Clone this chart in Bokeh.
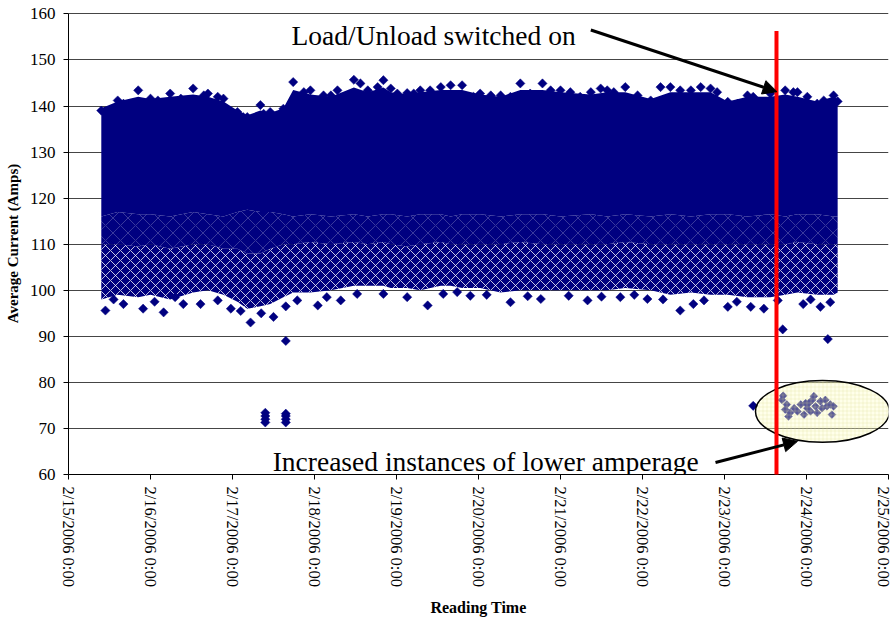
import math
from bokeh.plotting import figure
from bokeh.models import Range1d, FixedTicker, Arrow, NormalHead, Label, ColumnDataSource
from bokeh.embed import file_html
from bokeh.resources import INLINE

FONT = "Liberation Serif"
NAVY = "#000080"

# ---- axes ----
x_ticks = list(range(11))  # days since 2/15/2006 0:00
x_tick_labels = ["2/15/2006 0:00", "2/16/2006 0:00", "2/17/2006 0:00", "2/18/2006 0:00",
                 "2/19/2006 0:00", "2/20/2006 0:00", "2/21/2006 0:00", "2/22/2006 0:00",
                 "2/23/2006 0:00", "2/24/2006 0:00", "2/25/2006 0:00"]
y_ticks = [60, 70, 80, 90, 100, 110, 120, 130, 140, 150, 160]

# ---- dense reading cloud, read per time bin (days since 2/15 0:00, Amps) ----
bin_day = [0.40, 0.60, 0.85, 1.00, 1.24, 1.52, 1.70, 1.89, 2.06, 2.18, 2.34, 2.46, 2.62, 2.74,
           2.95, 3.20, 3.48, 3.65, 3.84, 3.93, 4.13, 4.29, 4.54, 4.66, 4.80, 5.02, 5.27, 5.51,
           5.78, 6.00, 6.37, 6.57, 6.79, 7.10, 7.34, 7.59, 7.83, 8.04, 8.28, 8.56, 8.74, 8.89,
           9.13, 9.33, 9.38]
band_top = [139.5, 141.0, 142.0, 141.5, 142.0, 142.5, 142.0, 141.0, 139.0, 138.0, 139.0, 138.5,
            139.5, 143.5, 142.5, 142.0, 144.0, 143.0, 144.0, 143.0, 142.5, 143.0, 143.5, 143.5,
            143.5, 142.5, 142.0, 143.5, 143.5, 143.0, 142.5, 143.0, 143.0, 141.5, 143.0, 143.0,
            143.0, 141.0, 142.0, 142.0, 142.5, 142.0, 141.0, 142.0, 141.5]
core_low = [116.0, 117.0, 116.5, 116.5, 116.0, 117.0, 116.5, 116.0, 117.0, 117.5, 117.0, 117.0,
            116.5, 116.0, 116.5, 116.0, 116.5, 116.0, 116.5, 116.5, 116.0, 116.5, 116.5, 116.0,
            116.5, 116.5, 116.0, 116.5, 116.5, 116.0, 116.5, 116.0, 116.5, 116.0, 116.5, 116.0,
            116.5, 116.5, 116.0, 116.5, 116.0, 116.5, 116.5, 116.0, 116.0]
mid_low = [110.0, 110.0, 109.5, 110.0, 109.0, 110.0, 110.0, 109.0, 109.0, 108.0, 108.0, 109.0,
           110.0, 110.0, 110.5, 110.0, 110.5, 110.0, 110.5, 110.0, 109.5, 110.0, 110.5, 110.0,
           110.0, 110.0, 110.0, 110.5, 110.0, 110.0, 110.0, 110.0, 110.5, 110.0, 110.0, 110.0,
           110.0, 110.0, 110.0, 110.0, 110.0, 110.5, 110.0, 110.0, 110.0]
sparse_low = [98.0, 99.0, 98.5, 99.0, 98.0, 99.5, 100.0, 99.0, 97.5, 96.0, 96.5, 97.0, 98.5,
              99.5, 99.5, 100.0, 101.0, 101.0, 101.0, 100.5, 100.5, 100.0, 101.0, 101.0, 100.5,
              100.5, 99.5, 100.0, 100.0, 100.0, 100.0, 100.0, 100.5, 100.0, 99.0, 99.5, 99.0,
              99.0, 98.5, 98.5, 99.0, 99.5, 99.0, 99.0, 99.5]
# highest readings along the top edge
peak_day = bin_day + [0.67, 1.09, 1.37, 1.65, 1.82, 2.13, 2.38, 2.55, 2.87, 3.11, 3.28, 3.56,
                      3.77, 4.01, 4.21, 4.41, 4.94, 5.15, 5.39, 5.63, 5.88, 6.12, 6.24, 6.49,
                      6.65, 6.94, 7.22, 7.46, 7.71, 7.91, 8.16, 8.35, 8.84, 9.01, 9.21]
peak_amps = [139.0, 141.2, 143.4, 141.6, 142.7, 143.8, 142.7, 141.6, 138.7, 137.6, 140.2, 138.7,
             139.4, 145.2, 143.4, 142.3, 145.7, 143.4, 145.6, 143.8, 142.8, 143.4, 144.1, 144.5,
             144.5, 142.7, 142.3, 144.9, 144.9, 143.4, 143.0, 143.4, 144.1, 141.2, 144.1, 143.4,
             143.8, 140.9, 142.3, 142.7, 143.4, 143.0, 140.5, 142.3, 141.0,
             140.5, 141.2, 141.6, 142.3, 142.0, 137.6, 138.3, 137.6, 143.0, 142.3, 143.4, 144.9,
             144.1, 142.7, 142.7, 143.4, 142.0, 142.3, 142.0, 142.7, 143.4, 143.0, 142.0, 143.8,
             143.0, 142.3, 144.1, 143.4, 144.1, 143.0, 140.5, 142.0, 143.0, 142.0, 141.2]
# lowest readings along the bottom edge of the cloud
low_day = [0.45, 0.55, 0.67, 0.91, 1.05, 1.16, 1.30, 1.40, 1.61, 1.82, 1.98, 2.10, 2.22, 2.35,
           2.50, 2.65, 2.79, 3.04, 3.15, 3.32, 3.52, 3.84, 4.13, 4.38, 4.57, 4.74, 4.90, 5.10,
           5.39, 5.60, 5.76, 6.10, 6.33, 6.50, 6.73, 6.90, 7.06, 7.25, 7.46, 7.62, 7.75, 8.04,
           8.15, 8.32, 8.48, 8.65, 8.96, 9.05, 9.17, 9.29]
low_amps = [95.6, 98.0, 97.0, 96.0, 97.5, 95.2, 98.5, 97.0, 97.0, 97.8, 96.0, 95.5, 93.0, 95.0,
            94.2, 96.5, 97.8, 96.7, 98.5, 97.8, 99.2, 99.2, 98.5, 96.7, 99.2, 99.6, 98.8, 99.0,
            97.4, 98.7, 98.1, 98.8, 97.8, 98.6, 98.5, 99.0, 98.1, 98.0, 95.6, 97.0, 97.8, 96.4,
            97.5, 96.4, 96.0, 97.8, 97.0, 98.0, 96.4, 97.4]
# isolated low readings
out_day = [2.40, 2.40, 2.40, 2.40, 2.65, 2.65, 2.65, 2.65, 2.65, 8.35, 8.71, 9.26]
out_amps = [71.3, 72.0, 72.7, 73.4, 71.3, 72.0, 72.7, 73.2, 89.0, 74.9, 91.5, 89.4]
# low-amperage cluster after the switch
clu_day = [8.715, 8.70, 8.76, 8.74, 8.78, 8.85, 8.89, 8.93, 8.97, 9.01, 9.03, 9.07, 9.09,
           9.11, 9.13, 9.17, 9.19, 9.23, 9.25, 9.29, 9.31, 9.33, 8.80, 8.99, 9.05]
clu_amps = [77.1, 76.2, 75.2, 74.1, 72.6, 74.4, 73.7, 75.2, 73.0, 74.4, 75.5, 76.2, 77.0,
            74.8, 73.4, 75.9, 74.4, 76.2, 74.8, 75.2, 73.0, 74.8, 73.4, 75.5, 73.7]
switch_day = 8.634

p = figure(width=892, height=618, x_range=Range1d(0, 10), y_range=Range1d(60, 160.3),
           output_backend="svg", toolbar_location=None,
           min_border_left=68, min_border_right=4, min_border_top=12, min_border_bottom=143)
p.outline_line_color = None
p.background_fill_color = "white"

# axes
p.xaxis.ticker = FixedTicker(ticks=x_ticks)
p.xaxis.major_label_overrides = {t: s for t, s in zip(x_ticks, x_tick_labels)}
p.xaxis.major_label_orientation = -math.pi / 2
p.yaxis.ticker = FixedTicker(ticks=y_ticks)
p.yaxis.bounds = (60, 160)
for ax in (p.xaxis, p.yaxis):
    ax.major_label_text_font = FONT
    ax.major_label_text_color = "black"
    ax.axis_label_text_font = FONT
    ax.axis_label_text_font_style = "bold"
    ax.axis_label_text_color = "black"
    ax.axis_line_color = "black"
    ax.major_tick_line_color = "black"
    ax.major_tick_out = 5
    ax.major_tick_in = 0
    ax.minor_tick_line_color = None
p.xaxis.major_label_text_font_size = "16.5px"
p.yaxis.major_label_text_font_size = "17px"
p.xaxis.major_label_standoff = 7
p.yaxis.major_label_standoff = 8
p.xaxis.axis_label = "Reading Time"
p.xaxis.axis_label_text_font_size = "16px"
p.xaxis.axis_label_standoff = 9
p.yaxis.axis_label = "Average Current (Amps)"
p.yaxis.axis_label_text_font_size = "15px"
p.yaxis.axis_label_standoff = 6

p.xgrid.grid_line_color = None
p.ygrid.ticker = FixedTicker(ticks=y_ticks)
p.ygrid.grid_line_color = "#454545"
p.ygrid.grid_line_width = 1

src = ColumnDataSource(dict(d=bin_day, top=band_top, core=core_low, mid=mid_low, low=sparse_low))
# sparse lower part of the cloud
p.varea(x="d", y1="low", y2="mid", source=src, fill_color=NAVY,
        hatch_pattern="x", hatch_color="white", hatch_scale=10, hatch_weight=0.9, hatch_alpha=0.85)
p.varea(x="d", y1="mid", y2="core", source=src, fill_color=NAVY,
        hatch_pattern="x", hatch_color="white", hatch_scale=15, hatch_weight=0.5, hatch_alpha=0.45)
p.varea(x="d", y1="core", y2="top", source=src, fill_color=NAVY)

mk = dict(marker="square", angle=math.pi / 4, size=6.5, fill_color=NAVY, line_color=NAVY, line_width=0.5)
p.scatter(peak_day, peak_amps, **mk)
p.scatter(low_day, low_amps, **mk)
p.scatter(out_day, out_amps, **mk)
p.scatter(clu_day, clu_amps, **dict(mk, size=5.5))

# highlight ellipse
p.ellipse(x=[9.195], y=[73.7], width=[1.634], height=[13.4], fill_color="#ffffc4", fill_alpha=0.35,
          line_color="black", line_width=1.5, hatch_pattern="+", hatch_color="#d8d890",
          hatch_alpha=0.45, hatch_scale=4, hatch_weight=0.6)

# switch line (drawn as an annotation so it may run past the axis)
p.add_layout(Arrow(end=None, x_start=switch_day, y_start=57.8, x_end=switch_day, y_end=156.3,
                   line_color="#ff0000", line_width=4))

# annotations
p.add_layout(Arrow(end=NormalHead(size=14, fill_color="black", line_color="black"),
                   x_start=6.37, y_start=156.5, x_end=8.64, y_end=143.1,
                   line_color="black", line_width=3))
p.add_layout(Arrow(end=NormalHead(size=14, fill_color="black", line_color="black"),
                   x_start=7.89, y_start=62.6, x_end=8.89, y_end=67.2,
                   line_color="black", line_width=3))
p.add_layout(Label(x=2.72, y=155.2, text="Load/Unload switched on", text_font=FONT,
                   text_font_size="27.5px", text_baseline="middle", text_color="black"))
p.add_layout(Label(x=2.49, y=62.8, text="Increased instances of lower amperage", text_font=FONT,
                   text_font_size="27.5px", text_baseline="middle", text_color="black"))

open("out.html", "w").write(file_html(p, INLINE))
